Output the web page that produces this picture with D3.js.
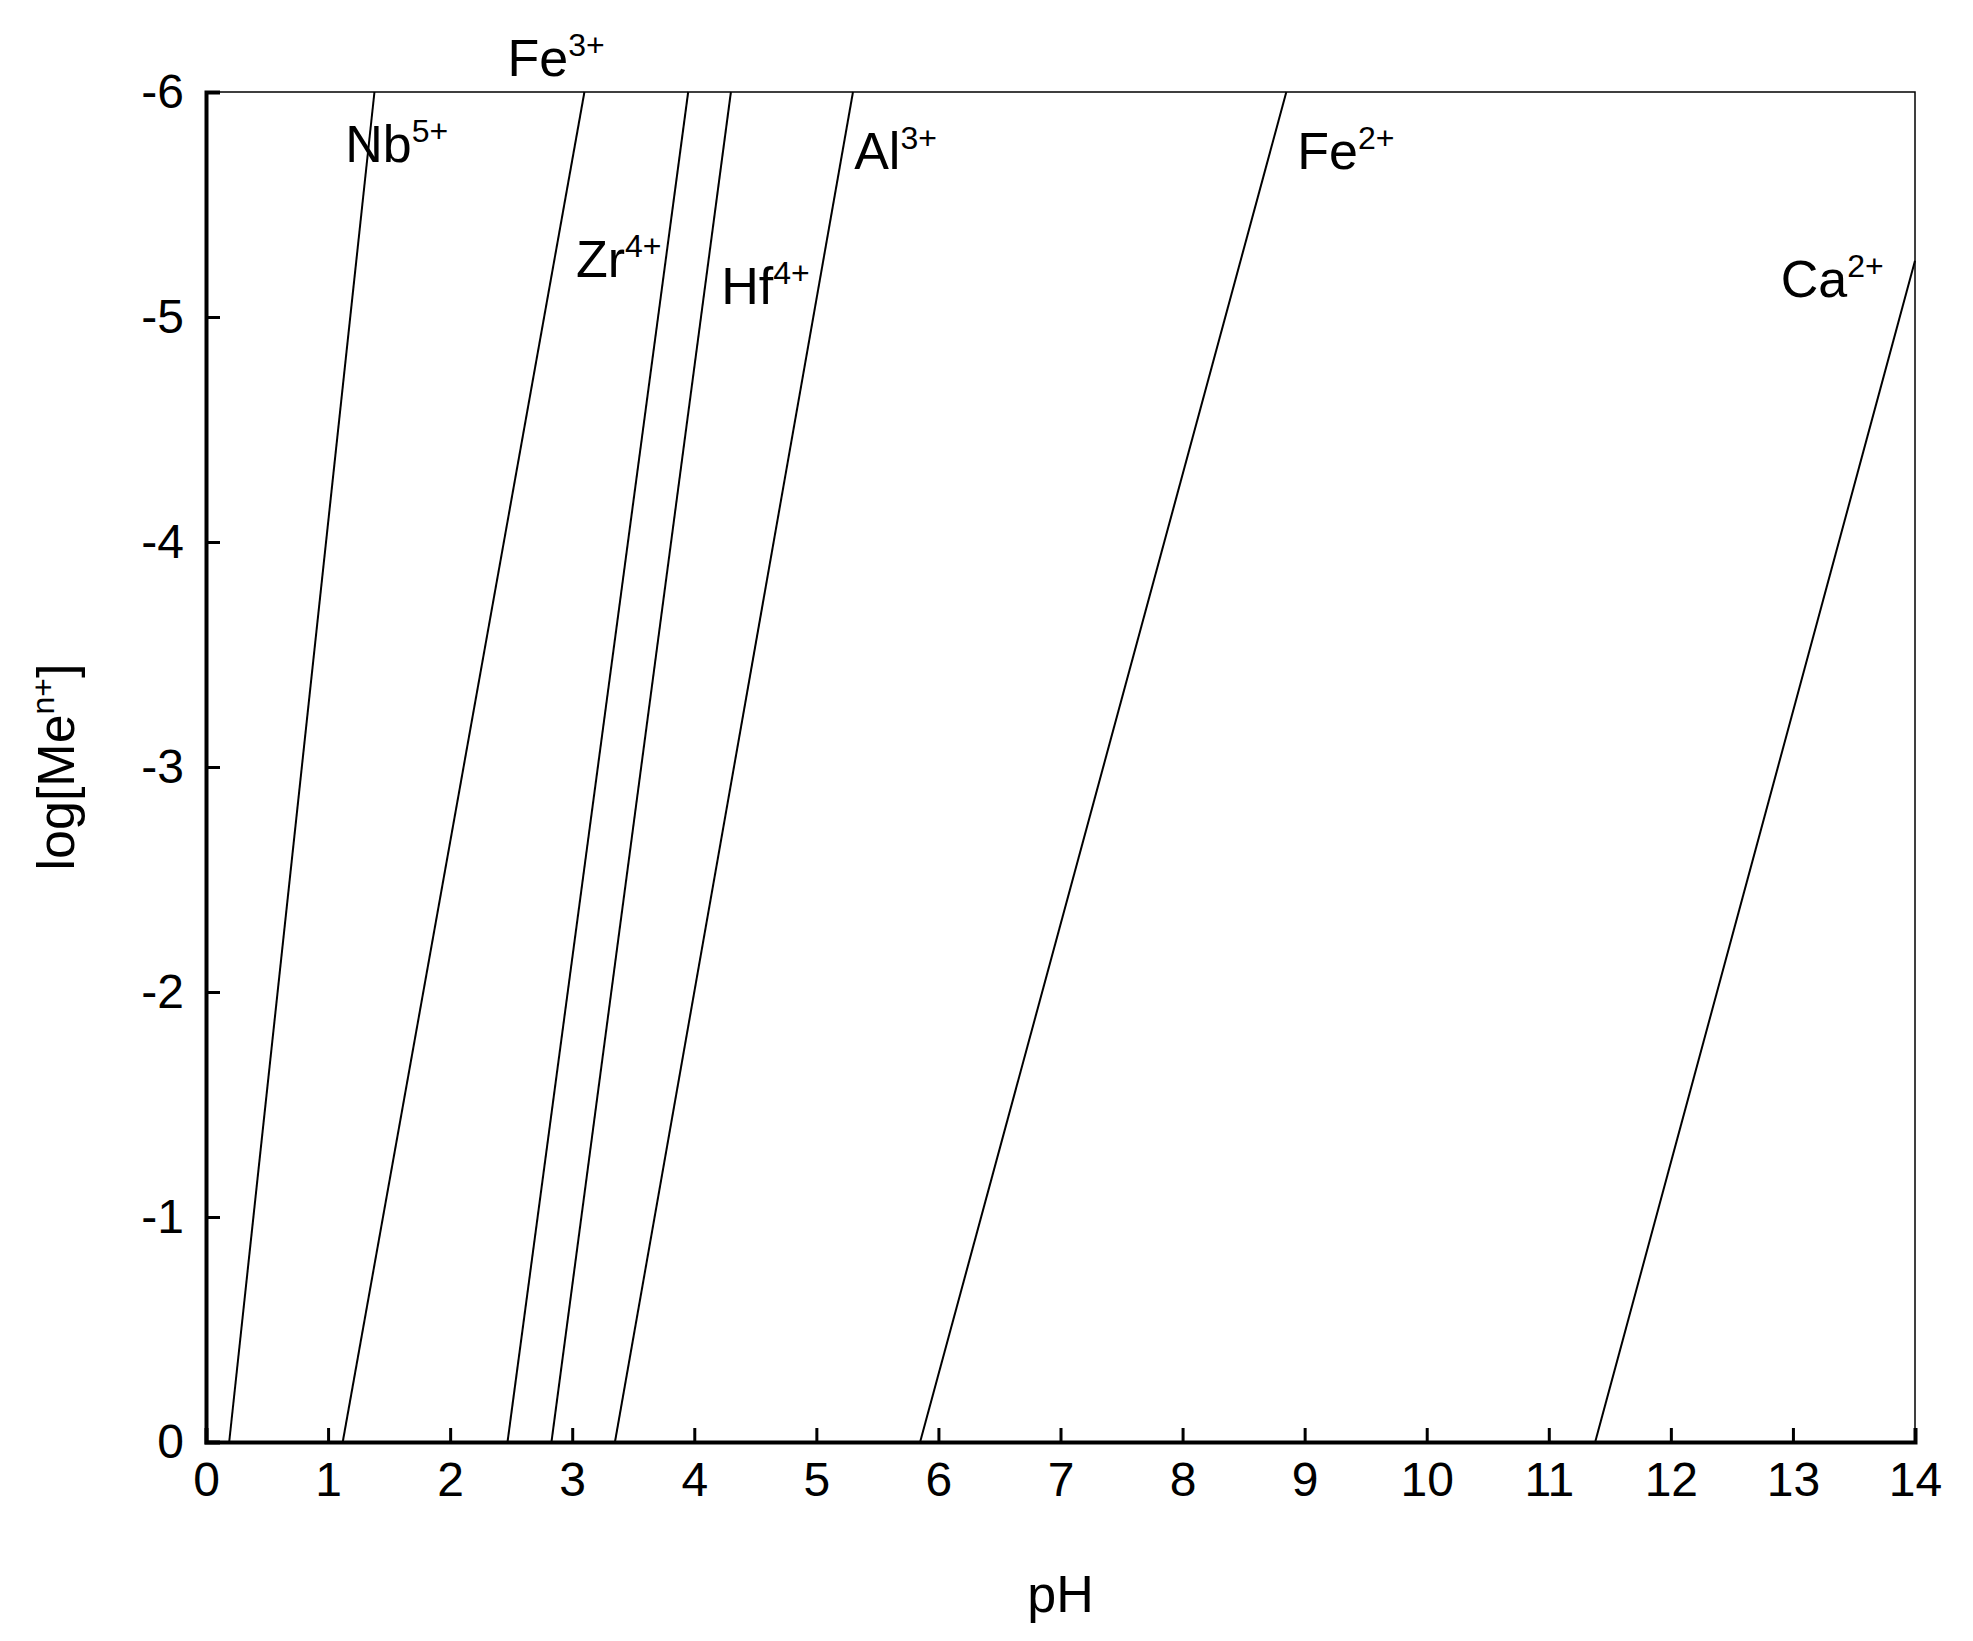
<!DOCTYPE html>
<html><head><meta charset="utf-8">
<script src="https://cdn.jsdelivr.net/npm/d3@7"></script>
<style>body{margin:0;background:#fff}text{font-family:"Liberation Sans",Arial,sans-serif}</style>
</head><body>
<svg id="chart" width="1973" height="1641"></svg>
<script>
const ions = ["Nb", "Fe3", "Zr", "Hf", "Al", "Fe2", "Ca"];
// [pH, logC] end points of each line
const lineStart = [[0.19, 0], [1.12, 0], [2.47, 0], [2.83, 0], [3.35, 0], [5.85, 0], [11.38, 0]];
const lineEnd = [[1.38, -6], [3.1, -6], [3.95, -6], [4.3, -6], [5.3, -6], [8.85, -6], [14, -5.25]];
const labelBase = ["Nb", "Fe", "Zr", "Hf", "Al", "Fe", "Ca"];
const labelSup = ["5+", "3+", "4+", "4+", "3+", "2+", "2+"];
const labelPos = [[1.14, -5.69], [2.47, -6.07], [3.03, -5.18], [4.22, -5.06], [5.31, -5.66], [8.94, -5.66], [12.9, -5.09]];
const xTicks = d3.range(0, 15);
const yTicks = [0, -1, -2, -3, -4, -5, -6];

const M = {left: 206, right: 1915, top: 92, bottom: 1442};
const svg = d3.select("#chart");
const x = d3.scaleLinear().domain([0, 14]).range([M.left, M.right]);
const y = d3.scaleLinear().domain([0, -6]).range([M.bottom, M.top]);

// frame
svg.append("rect").attr("x", M.left).attr("y", M.top)
  .attr("width", M.right - M.left).attr("height", M.bottom - M.top)
  .attr("fill", "none").attr("stroke", "#000").attr("stroke-width", 1.5);

const xAxis = svg.append("g").attr("transform", `translate(0,${M.bottom})`)
  .call(d3.axisBottom(x).tickValues(xTicks).tickSize(-14).tickPadding(20));
const yAxis = svg.append("g").attr("transform", `translate(${M.left},0)`)
  .call(d3.axisLeft(y).tickValues(yTicks).tickSize(-14).tickPadding(22).tickFormat(d => String(d)));
[xAxis, yAxis].forEach(g => {
  g.select(".domain").attr("stroke-width", 4);
  g.selectAll(".tick line").attr("stroke-width", 3);
  g.selectAll("text").attr("font-size", 48).attr("fill", "#000")
    .style("font-family", "'Liberation Sans',Arial,sans-serif");
});
xAxis.selectAll("text").attr("dy", "0.71em");

// lines
ions.forEach((ion, i) => {
  svg.append("line")
    .attr("x1", x(lineStart[i][0])).attr("y1", y(lineStart[i][1]))
    .attr("x2", x(lineEnd[i][0])).attr("y2", y(lineEnd[i][1]))
    .attr("stroke", "#000").attr("stroke-width", 2);
  const t = svg.append("text").attr("x", x(labelPos[i][0])).attr("y", y(labelPos[i][1]))
    .attr("font-size", 52);
  t.append("tspan").text(labelBase[i]);
  t.append("tspan").attr("dy", -20).attr("font-size", 32).text(labelSup[i]);
});

// axis titles
svg.append("text").attr("x", (M.left + M.right) / 2).attr("y", 1612)
  .attr("text-anchor", "middle").attr("font-size", 52).text("pH");
const yt = svg.append("text").attr("transform", `translate(74,${(M.top + M.bottom) / 2}) rotate(-90)`)
  .attr("text-anchor", "middle").attr("font-size", 52);
yt.append("tspan").text("log[Me");
yt.append("tspan").attr("dy", -20).attr("font-size", 32).text("n+");
yt.append("tspan").attr("dy", 20).text("]");
</script>
</body></html>
